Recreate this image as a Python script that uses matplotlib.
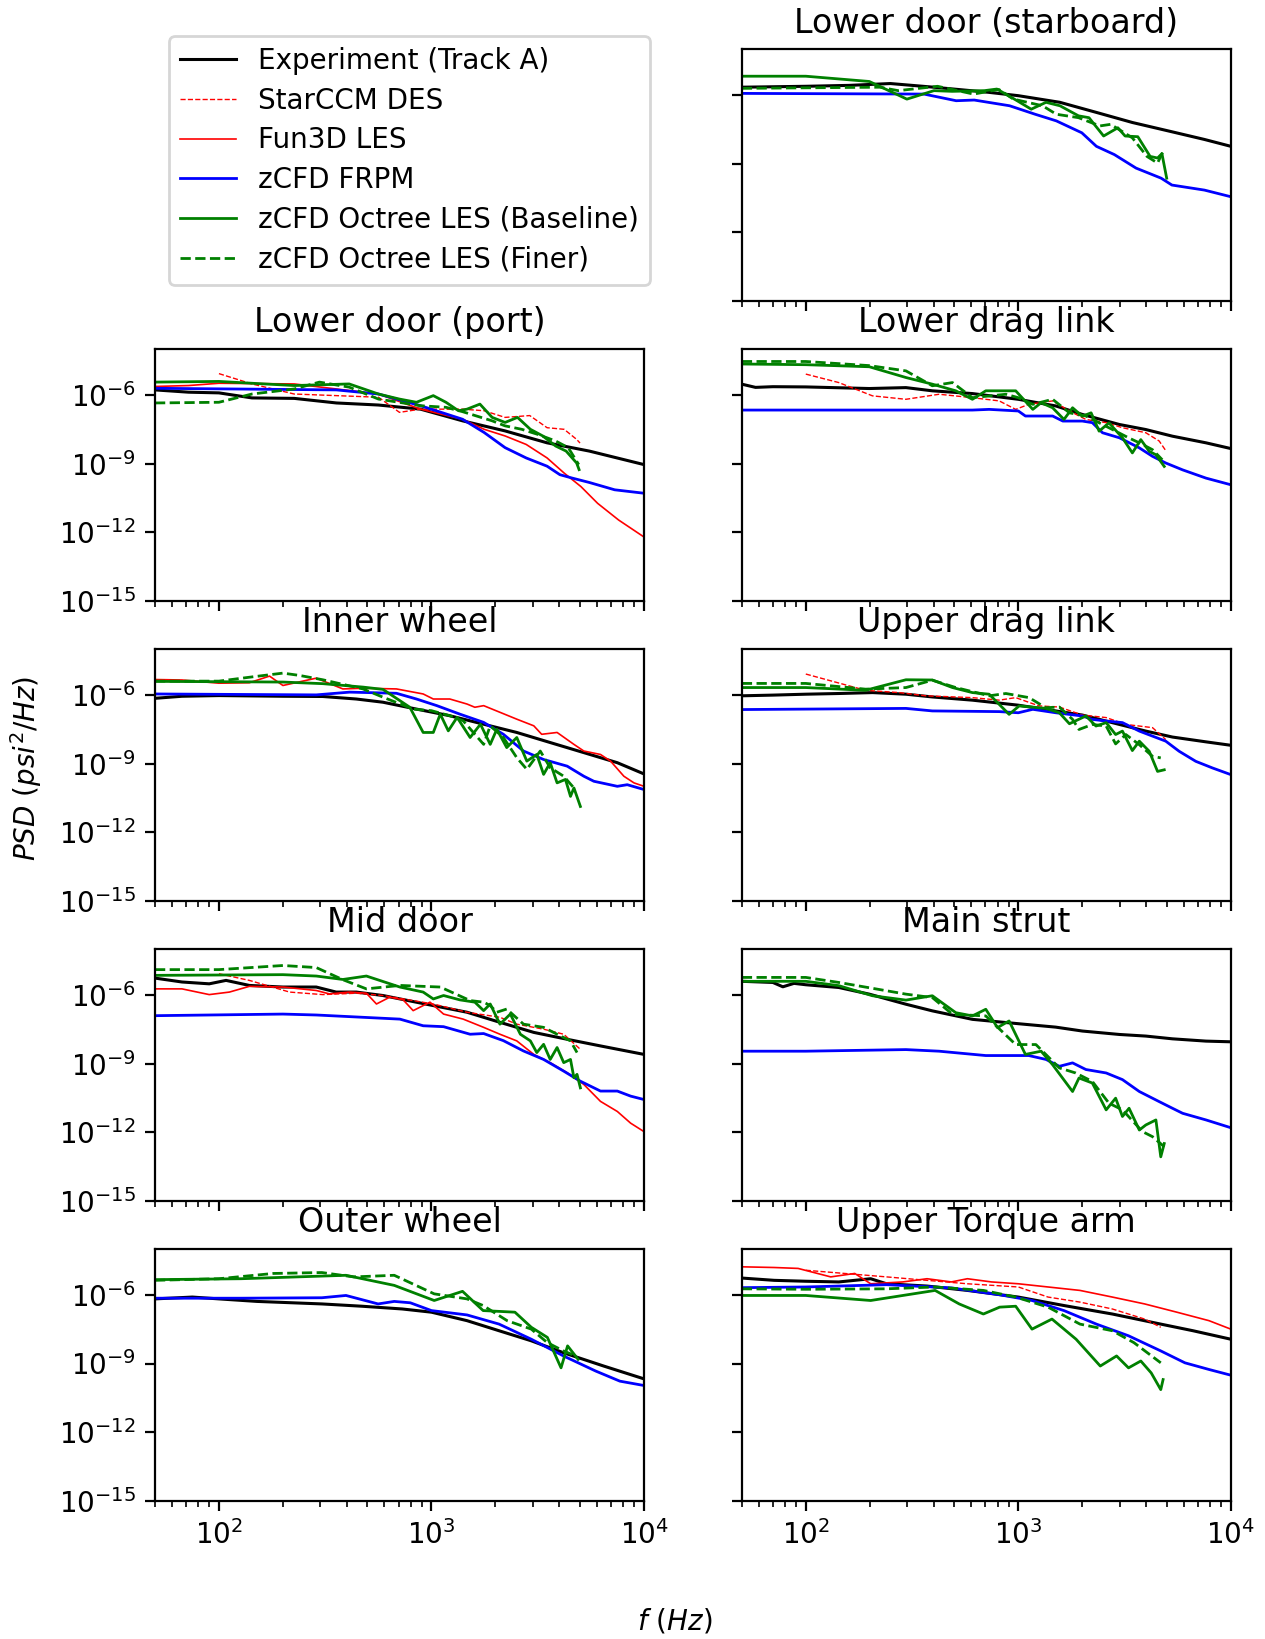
import matplotlib
matplotlib.use('Agg')
import matplotlib.pyplot as plt
import numpy as np

# every series is a list of (frequency Hz, log10 PSD)

# Lower door (starboard)
stb_exp = [(50, -5.66), (100, -5.62), (160, -5.58), (250, -5.5), (400, -5.66), (720, -5.88),
           (1000, -6.03), (1570, -6.32), (2330, -6.76), (3440, -7.2), (5090, -7.57),
           (7510, -7.94), (10000, -8.24)]
stb_frpm = [(50, -5.93), (360, -5.96), (510, -6.25), (620, -6.22), (910, -6.47), (1200, -6.84),
            (1510, -7.13), (1990, -7.65), (2330, -8.24), (2830, -8.6), (3580, -9.19),
            (4700, -9.63), (5280, -9.93), (7510, -10.15), (10000, -10.44)]
stb_base = [(50, -5.18), (100, -5.18), (199, -5.41), (299, -6.18), (401, -5.81), (488, -5.84),
            (693, -5.81), (793, -5.74), (987, -6.25), (1150, -6.62), (1350, -6.32), (1570, -6.47),
            (1920, -6.91), (2150, -6.99), (2520, -7.79), (2940, -7.43), (3180, -7.79),
            (3650, -7.82), (4170, -8.68), (4520, -8.75), (4740, -8.56), (4990, -9.63)]
stb_fine = [(50, -5.71), (223, -5.66), (272, -5.81), (417, -5.62), (616, -5.96), (811, -5.76),
            (948, -6.18), (1300, -6.47), (1510, -6.84), (1920, -6.99), (2420, -7.35),
            (2720, -7.28), (3440, -7.87), (4030, -8.68), (4520, -8.97), (4800, -8.46)]

# Lower door (port)
port_exp = [(50, -5.78), (72, -5.88), (100, -5.91), (143, -6.13), (226, -6.15), (357, -6.35),
            (563, -6.44), (888, -6.62), (1400, -7.13), (2220, -7.57), (3500, -8.09),
            (5530, -8.45), (10000, -9.04)]
port_star = [(100, -5.07), (143, -5.52), (226, -5.96), (563, -6.1), (707, -6.76), (888, -6.62),
             (1400, -6.62), (1770, -6.69), (2220, -6.98), (2900, -6.9), (3500, -7.43),
             (4210, -7.5), (4820, -7.94), (5000, -8.1)]
port_fun3d = [(50, -5.63), (72, -5.59), (100, -5.49), (226, -5.52), (357, -5.74), (563, -5.96),
              (888, -6.62), (1400, -7.06), (1770, -7.5), (2220, -7.79), (2790, -8.16),
              (3500, -8.75), (4210, -9.41), (5050, -10.0), (6050, -10.73), (7600, -11.46),
              (10000, -12.2)]
port_frpm = [(50, -5.71), (357, -5.78), (563, -5.96), (888, -6.47), (1400, -7.06), (1770, -7.64),
             (2220, -8.3), (2790, -8.75), (3500, -9.11), (4020, -9.48), (4600, -9.63),
             (5530, -9.82), (7280, -10.14), (10000, -10.29)]
port_base = [(50, -5.44), (100, -5.41), (143, -5.49), (226, -5.59), (410, -5.52), (563, -5.96),
             (707, -6.18), (850, -6.32), (1020, -6.03), (1170, -6.32), (1340, -6.69),
             (1470, -6.62), (1690, -6.4), (1930, -6.98), (2220, -7.2), (2540, -6.98),
             (2920, -7.5), (3340, -7.79), (3840, -8.23), (4300, -8.45), (4820, -8.97),
             (4950, -9.26)]
port_fine = [(50, -6.35), (100, -6.32), (143, -5.96), (226, -5.74), (297, -5.44), (410, -5.66),
             (563, -6.18), (888, -6.47), (1170, -6.54), (1400, -6.73), (1930, -7.13),
             (2220, -7.35), (2660, -7.5), (3160, -7.72), (3840, -8.01), (4400, -8.3),
             (4930, -9.04)]

# Lower drag link
dlow_exp = [(50, -5.53), (58, -5.67), (70, -5.64), (100, -5.65), (199, -5.72), (296, -5.68),
            (394, -5.82), (608, -5.94), (1000, -6.19), (1500, -6.48), (2000, -6.85),
            (2990, -7.29), (3980, -7.51), (5310, -7.8), (7640, -8.09), (10000, -8.34)]
dlow_star = [(100, -5.09), (143, -5.46), (206, -6.04), (296, -6.19), (424, -5.97), (608, -6.12),
             (813, -6.26), (972, -6.63), (1120, -6.41), (1450, -6.26), (1740, -6.7),
             (2080, -7.07), (2590, -7.21), (3090, -7.43), (3980, -7.65), (4600, -8.01),
             (4940, -8.43)]
dlow_frpm = [(50, -6.66), (608, -6.66), (729, -6.63), (1000, -6.7), (1080, -6.92), (1450, -6.92),
             (1620, -7.14), (2000, -7.14), (2230, -7.21), (2490, -7.65), (2990, -7.87),
             (3710, -8.31), (4280, -8.68), (4940, -8.97), (5930, -9.27), (7640, -9.63),
             (10000, -9.92)]
dlow_base = [(50, -4.65), (100, -4.68), (199, -4.77), (296, -5.24), (394, -5.53), (508, -5.82),
             (608, -6.19), (703, -5.82), (972, -5.82), (1170, -6.63), (1280, -6.34),
             (1450, -6.56), (1640, -7.07), (1800, -6.56), (2000, -6.93), (2200, -6.78),
             (2400, -7.58), (2670, -7.22), (3090, -7.87), (3440, -8.53), (3770, -7.95),
             (4130, -8.46), (4440, -8.61), (4860, -9.12)]
dlow_fine = [(50, -4.54), (100, -4.54), (199, -4.72), (296, -4.95), (394, -5.6), (490, -5.46),
             (608, -6.12), (874, -5.97), (1000, -6.12), (1170, -6.41), (1450, -6.19),
             (1740, -6.78), (2080, -6.92), (2490, -7.29), (2870, -7.58), (3300, -7.87),
             (3710, -8.09), (4280, -8.39), (4760, -8.83)]

# Inner wheel
inner_exp = [(50, -6.15), (67, -6.06), (100, -6.03), (200, -6.06), (308, -6.07), (443, -6.18),
             (591, -6.32), (850, -6.62), (1220, -6.91), (1760, -7.28), (2520, -7.64),
             (3620, -8.08), (5210, -8.52), (7490, -8.96), (10000, -9.45)]
inner_fun3d = [(50, -5.33), (67, -5.35), (100, -5.49), (139, -5.47), (173, -5.18), (200, -5.59),
               (287, -5.27), (383, -5.74), (476, -5.71), (684, -5.74), (914, -5.96),
               (1020, -6.18), (1220, -6.18), (1470, -6.4), (1600, -6.54), (1760, -6.47),
               (2100, -6.76), (2520, -7.06), (3030, -7.35), (3300, -7.72), (3900, -7.64),
               (4680, -8.16), (5210, -8.45), (6240, -8.6), (6960, -8.89), (8040, -9.55),
               (8970, -9.84), (10000, -9.99)]
inner_frpm = [(50, -5.96), (287, -6.0), (412, -5.88), (684, -5.93), (850, -6.18), (1060, -6.47),
              (1360, -6.84), (1760, -7.2), (2180, -7.72), (2710, -8.45), (3370, -8.82),
              (4350, -9.11), (5210, -9.55), (5810, -9.77), (7490, -9.99), (8340, -9.92),
              (10000, -10.13)]
inner_base = [(50, -5.41), (200, -5.44), (308, -5.51), (476, -5.66), (591, -5.76), (791, -6.54),
              (914, -7.64), (1020, -7.64), (1100, -6.84), (1200, -7.57), (1320, -6.98),
              (1520, -7.86), (1700, -7.28), (1890, -8.16), (2030, -7.5), (2260, -8.3),
              (2520, -7.86), (2810, -8.89), (3130, -8.6), (3370, -9.47), (3620, -8.96),
              (3900, -9.84), (4270, -9.69), (4510, -10.43), (4680, -10.06), (5020, -10.87)]
inner_fine = [(50, -5.4), (100, -5.4), (139, -5.23), (200, -5.05), (239, -5.15), (308, -5.34),
              (476, -5.74), (591, -6.1), (820, -6.62), (1000, -6.69), (1220, -6.91),
              (1410, -7.13), (1760, -8.16), (1890, -7.35), (2180, -7.86), (2520, -8.74),
              (2810, -9.25), (3250, -8.45), (3620, -9.18), (4190, -9.55), (4750, -10.13)]

# Upper drag link
dup_exp = [(50, -6.04), (70, -6.01), (100, -5.97), (143, -5.94), (206, -5.9), (296, -5.97),
           (394, -6.09), (608, -6.23), (1000, -6.45), (1500, -6.7), (2000, -6.88),
           (2990, -7.29), (3980, -7.58), (5310, -7.84), (7640, -8.05), (10000, -8.2)]
dup_star = [(100, -5.09), (191, -5.8), (275, -5.9), (367, -6.04), (608, -6.12), (813, -6.23),
            (972, -6.12), (1250, -6.48), (1560, -6.53), (2000, -6.88), (2590, -6.99),
            (3210, -7.29), (4280, -7.43), (4940, -7.95)]
dup_frpm = [(50, -6.64), (296, -6.59), (394, -6.7), (813, -6.73), (1000, -6.78), (1170, -6.63),
            (1500, -6.78), (2000, -6.92), (2230, -7.07), (2590, -7.14), (3090, -7.21),
            (3710, -7.58), (4280, -7.8), (4940, -8.02), (5710, -8.46), (6840, -8.9),
            (8200, -9.19), (10000, -9.48)]
dup_base = [(50, -5.68), (100, -5.68), (191, -5.8), (296, -5.34), (394, -5.35), (490, -5.68),
            (608, -5.9), (729, -5.97), (905, -6.85), (1010, -6.48), (1350, -6.59),
            (1560, -6.78), (1740, -7.26), (2080, -6.92), (2320, -7.36), (2590, -7.21),
            (2870, -7.73), (3090, -7.58), (3440, -8.43), (3710, -8.02), (4130, -8.46),
            (4520, -9.34), (4860, -9.27)]
dup_fine = [(50, -5.5), (100, -5.5), (191, -5.75), (296, -5.68), (394, -5.36), (508, -5.68),
            (729, -6.04), (874, -5.94), (1124, -6.12), (1346, -6.56), (1560, -6.53),
            (1800, -7.07), (1930, -7.51), (2232, -7.29), (2590, -7.36), (2870, -8.14),
            (3206, -7.73), (3706, -8.17), (4280, -8.68), (4680, -8.75)]

# Mid door
mid_exp = [(50, -5.27), (67, -5.44), (90, -5.52), (108, -5.37), (139, -5.59), (200, -5.66),
           (287, -5.66), (356, -5.88), (443, -5.88), (591, -6.03), (1020, -6.47), (1470, -6.76),
           (2100, -7.2), (3030, -7.64), (4350, -7.94), (6240, -8.23), (10000, -8.6)]
mid_star = [(100, -5.08), (139, -5.37), (215, -5.88), (308, -5.99), (443, -5.93), (591, -6.03),
            (1020, -6.4), (1470, -6.76), (2100, -6.98), (2520, -7.28), (3370, -7.5),
            (4190, -7.72), (5020, -8.38)]
mid_fun3d = [(50, -5.74), (67, -5.74), (90, -5.99), (112, -5.88), (139, -5.63), (200, -5.66),
             (287, -5.81), (331, -5.96), (412, -5.88), (494, -5.93), (551, -6.4), (637, -6.1),
             (736, -6.22), (820, -6.69), (984, -6.32), (1140, -6.84), (1410, -7.06),
             (1760, -7.42), (2100, -7.72), (2520, -8.01), (3030, -8.6), (3620, -8.96),
             (4350, -9.4), (5210, -9.91), (6240, -10.65), (7490, -11.09), (8650, -11.6),
             (10000, -11.97)]
mid_frpm = [(50, -6.91), (200, -6.84), (287, -6.88), (710, -7.06), (914, -7.35), (1140, -7.39),
            (1520, -7.72), (1760, -7.69), (2180, -8.0), (2710, -8.45), (3370, -8.82),
            (4190, -9.33), (5020, -9.77), (6240, -10.2), (7490, -10.2), (8650, -10.42),
            (10000, -10.57)]
mid_base = [(50, -5.15), (200, -5.12), (287, -5.18), (383, -5.33), (494, -5.18), (710, -5.66),
            (914, -5.88), (1020, -6.18), (1140, -6.03), (1360, -6.22), (1600, -6.32),
            (1760, -6.69), (1890, -6.4), (2100, -7.28), (2350, -6.84), (2620, -7.72),
            (2920, -8.01), (3130, -8.52), (3370, -8.16), (3620, -8.82), (3900, -8.3),
            (4190, -8.96), (4510, -8.82), (4680, -9.62), (4840, -9.47), (5020, -10.06)]
mid_fine = [(50, -4.9), (100, -4.9), (200, -4.72), (287, -4.81), (383, -5.34), (494, -5.74),
            (710, -5.59), (1100, -5.66), (1520, -6.25), (1760, -6.32), (1890, -6.47),
            (2030, -6.76), (2260, -6.62), (2710, -7.28), (3370, -7.42), (3900, -7.72),
            (4510, -8.01), (4840, -8.52)]

# Main strut
strut_exp = [(50, -5.41), (70, -5.46), (78, -5.65), (88, -5.5), (100, -5.56), (143, -5.68),
             (199, -5.97), (296, -6.41), (394, -6.7), (608, -7.07), (1000, -7.26), (1500, -7.41),
             (2000, -7.58), (2990, -7.73), (3980, -7.8), (5310, -7.92), (7640, -8.02),
             (10000, -8.05)]
strut_frpm = [(50, -8.46), (100, -8.46), (296, -8.39), (424, -8.46), (703, -8.65), (1120, -8.65),
              (1350, -8.82), (1560, -9.12), (1800, -8.97), (2080, -9.26), (2590, -9.41),
              (3090, -9.7), (3710, -10.22), (4600, -10.66), (5310, -10.95), (5930, -11.17),
              (7640, -11.46), (10000, -11.8)]
strut_base = [(50, -5.41), (100, -5.41), (143, -5.6), (206, -6.04), (296, -6.23), (394, -6.04),
              (508, -6.78), (608, -6.92), (703, -6.63), (798, -7.43), (905, -7.14),
              (1080, -8.6), (1280, -8.46), (1450, -9.05), (1800, -10.22), (1930, -9.63),
              (2230, -9.85), (2590, -11.02), (2870, -10.51), (3090, -11.31), (3320, -10.95),
              (3710, -11.9), (3980, -11.68), (4440, -11.46), (4680, -13.07), (4860, -12.49)]
strut_fine = [(50, -5.24), (100, -5.24), (143, -5.46), (296, -5.97), (394, -6.12), (490, -6.85),
              (703, -6.92), (972, -8.17), (1210, -8.17), (1560, -9.19), (1860, -9.41),
              (2230, -9.78), (2670, -10.73), (3090, -11.02), (3840, -11.97), (4280, -12.19),
              (4860, -12.63)]

# Outer wheel
outer_exp = [(50, -6.18), (75, -6.1), (100, -6.18), (151, -6.29), (305, -6.4), (471, -6.5),
             (729, -6.62), (1000, -6.76), (1470, -7.13), (2080, -7.57), (2950, -8.01),
             (4180, -8.53), (6460, -9.11), (10000, -9.67)]
outer_frpm = [(50, -6.15), (127, -6.15), (305, -6.13), (396, -6.03), (561, -6.4), (668, -6.29),
              (795, -6.35), (1000, -6.69), (1470, -6.88), (2080, -7.28), (2950, -7.94),
              (4180, -8.67), (5930, -9.33), (7700, -9.77), (10000, -9.96)]
outer_base = [(50, -5.34), (127, -5.3), (396, -5.15), (668, -5.59), (1030, -6.25), (1400, -5.85),
              (1750, -6.69), (2470, -6.76), (2950, -7.42), (3510, -7.86), (4070, -9.19),
              (4370, -8.23), (4900, -8.82)]
outer_fine = [(50, -5.37), (100, -5.3), (180, -5.07), (305, -5.03), (431, -5.22), (668, -5.15),
              (1030, -5.96), (1470, -6.18), (1750, -6.47), (2270, -7.13), (2950, -7.5),
              (3510, -8.09), (4180, -8.45), (4770, -8.67)]

# Upper Torque arm
torque_exp = [(50, -5.27), (71, -5.37), (100, -5.41), (143, -5.44), (202, -5.3), (240, -5.52),
              (372, -5.62), (576, -5.81), (1000, -6.1), (1640, -6.47), (2770, -6.84),
              (4680, -7.28), (6640, -7.57), (10000, -7.94)]
torque_star = [(100, -4.93), (240, -5.22), (576, -5.52), (1000, -5.66), (1380, -6.1),
               (1950, -6.32), (2770, -6.62), (3930, -7.06), (4680, -7.42)]
torque_fun3d = [(50, -4.78), (71, -4.81), (92, -4.85), (131, -5.22), (170, -5.07), (202, -5.52),
                (286, -5.44), (372, -5.3), (484, -5.44), (576, -5.3), (748, -5.44), (1000, -5.52),
                (1380, -5.66), (1950, -5.81), (2770, -6.1), (3930, -6.4), (5570, -6.76),
                (7890, -7.13), (10000, -7.5)]
torque_frpm = [(50, -5.69), (100, -5.66), (240, -5.56), (484, -5.7), (817, -6.0), (1160, -6.25),
               (1640, -6.69), (2330, -7.28), (3300, -7.79), (4680, -8.45), (6080, -8.97),
               (7890, -9.26), (10000, -9.51)]
torque_base = [(50, -6.03), (100, -6.03), (202, -6.25), (406, -5.81), (527, -6.4), (685, -6.84),
               (817, -6.54), (972, -6.5), (1160, -7.5), (1440, -7.06), (1870, -7.94),
               (2430, -9.11), (2900, -8.67), (3300, -9.19), (3770, -8.89), (4220, -9.41),
               (4680, -10.14), (4800, -9.7)]
torque_fine = [(50, -5.74), (100, -5.76), (240, -5.74), (406, -5.66), (685, -5.81), (972, -6.1),
               (1380, -6.54), (1950, -7.28), (2770, -7.57), (3500, -8.09), (4680, -8.97)]

labels = ['Experiment (Track A)', 'StarCCM DES', 'Fun3D LES', 'zCFD FRPM',
          'zCFD Octree LES (Baseline)', 'zCFD Octree LES (Finer)']
styles = [dict(color='k', lw=1.1),
          dict(color='r', lw=0.5, ls='--'),
          dict(color='r', lw=0.6),
          dict(color='b', lw=1.0),
          dict(color='g', lw=1.0),
          dict(color='g', lw=1.0, ls='--')]


def to_arrays(data):
    f, p = zip(*data)
    return np.array(f), 10.0 ** np.array(p)


def main():
    fig, axes = plt.subplots(5, 2, figsize=(6.325, 8.195), dpi=200, sharex=True, sharey=True)
    fig.subplots_adjust(left=0.1225, right=0.973, bottom=0.0842, top=0.970,
                        wspace=0.2, hspace=0.19)

    panels = [
        (axes[0, 1], 'Lower door (starboard)', [stb_exp, None, None, stb_frpm, stb_base, stb_fine]),
        (axes[1, 0], 'Lower door (port)', [port_exp, port_star, port_fun3d, port_frpm, port_base, port_fine]),
        (axes[1, 1], 'Lower drag link', [dlow_exp, dlow_star, None, dlow_frpm, dlow_base, dlow_fine]),
        (axes[2, 0], 'Inner wheel', [inner_exp, None, inner_fun3d, inner_frpm, inner_base, inner_fine]),
        (axes[2, 1], 'Upper drag link', [dup_exp, dup_star, None, dup_frpm, dup_base, dup_fine]),
        (axes[3, 0], 'Mid door', [mid_exp, mid_star, mid_fun3d, mid_frpm, mid_base, mid_fine]),
        (axes[3, 1], 'Main strut', [strut_exp, None, None, strut_frpm, strut_base, strut_fine]),
        (axes[4, 0], 'Outer wheel', [outer_exp, None, None, outer_frpm, outer_base, outer_fine]),
        (axes[4, 1], 'Upper Torque arm', [torque_exp, torque_star, torque_fun3d, torque_frpm, torque_base, torque_fine]),
    ]

    handles = []
    for ax, title, series in panels:
        for data, label, style in zip(series, labels, styles):
            if data is None:
                continue
            f, p = to_arrays(data)
            line, = ax.plot(f, p, label=label, **style)
            if ax is axes[1, 0]:
                handles.append(line)
        ax.set_title(title)

    ax = axes[4, 0]
    ax.set_xscale('log')
    ax.set_yscale('log')
    ax.set_xlim(50, 1e4)
    ax.set_ylim(1e-15, 1e-4)

    axes[0, 0].axis('off')
    fig.legend(handles, labels, loc='upper left', bbox_to_anchor=(169 / 1265, 1 - 36 / 1639),
               borderaxespad=0, labelspacing=0.42)

    fig.text(0.533, 0.011, r'$f\ (Hz)$', ha='center', va='center')
    fig.text(0.0206, 0.531, r'$PSD\ (psi^2/Hz)$', ha='center', va='center', rotation=90)

    fig.savefig('out.png', dpi=200)


if __name__ == "__main__":
    main()
